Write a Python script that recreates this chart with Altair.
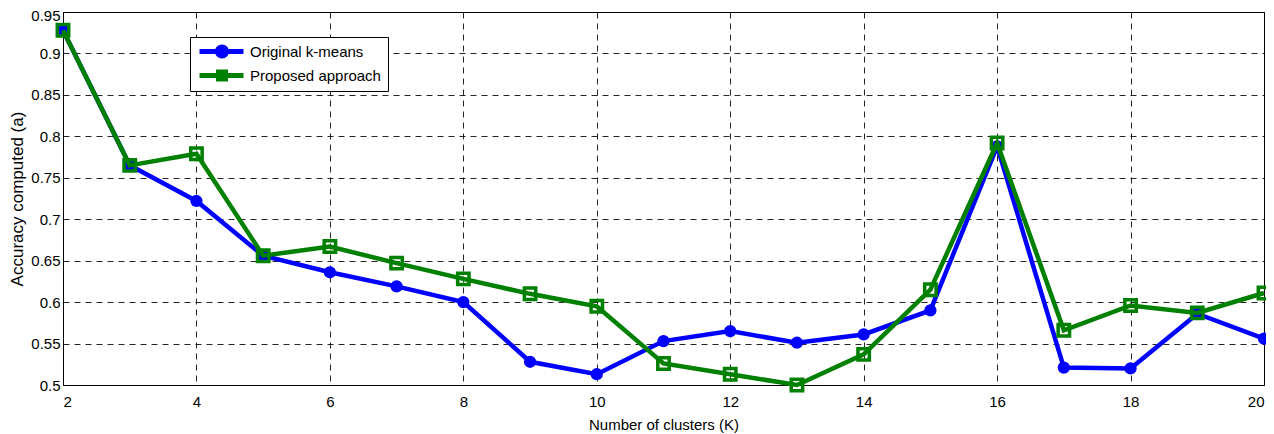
import altair as alt
import pandas as pd

k = list(range(2, 21))
original = [0.928, 0.765, 0.722, 0.656, 0.636, 0.619, 0.600, 0.528, 0.513, 0.553,
            0.565, 0.551, 0.561, 0.590, 0.788, 0.521, 0.520, 0.586, 0.556]
proposed = [0.928, 0.765, 0.779, 0.656, 0.667, 0.647, 0.628, 0.610, 0.595, 0.526,
            0.513, 0.500, 0.537, 0.615, 0.792, 0.566, 0.596, 0.587, 0.611]
series = ["Original k-means", "Proposed approach"]
colors = ["#0000ff", "#008000"]
x_ticks = [2, 4, 6, 8, 10, 12, 14, 16, 18, 20]
y_ticks = [0.5, 0.55, 0.6, 0.65, 0.7, 0.75, 0.8, 0.85, 0.9, 0.95]

df = pd.DataFrame({
    "K": k + k,
    "acc": original + proposed,
    "series": [series[0]] * len(k) + [series[1]] * len(k),
})

FONT = "Liberation Sans"

# legend symbol paths (unit = half the nominal symbol width): a line with a marker on it
BAR = "M-0.71,-0.36L5.57,-0.36L5.57,0.36L-0.71,0.36Z"
CIRC = BAR + "M1.5,0A1,1 0 1,1 3.5,0A1,1 0 1,1 1.5,0Z"
SQ = BAR + "M1.64,-0.86L3.36,-0.86L3.36,0.86L1.64,0.86Z"

legend = alt.Legend(
    orient="none", legendX=127, legendY=25, title=None,
    symbolSize=196, labelFontSize=15, labelFont=FONT, labelColor="black",
    labelOffset=38, padding=7, strokeColor="black", fillColor="white",
    rowPadding=8, symbolOpacity=1, symbolStrokeWidth=0,
)

color_scale = alt.Scale(domain=series, range=colors)
color_nolegend = alt.Color("series:N", scale=color_scale, legend=None)

x = alt.X("K:Q", scale=alt.Scale(domain=[2, 20], nice=False),
          axis=alt.Axis(values=x_ticks, title="Number of clusters (K)"))
y = alt.Y("acc:Q", scale=alt.Scale(domain=[0.5, 0.95], nice=False, zero=False),
          axis=alt.Axis(values=y_ticks, format="~g", title="Accuracy computed (a)",
                        labelOffset={"condition": {"test": "datum.value >= 0.949", "value": 3},
                                     "value": 0}))

# invisible layer that only supplies the legend symbols (line + marker)
legend_layer = alt.Chart(df).mark_point(filled=True, opacity=0).encode(
    x=x, y=y,
    color=alt.Color("series:N", scale=color_scale, legend=legend),
    shape=alt.Shape("series:N", scale=alt.Scale(domain=series, range=[CIRC, SQ]), legend=legend),
)

layers = [legend_layer]
for i, s in enumerate(series):
    base = alt.Chart(df).transform_filter(alt.datum.series == s)
    layers.append(base.mark_line(strokeWidth=4.5).encode(x=x, y=y, color=color_nolegend))
    if i == 0:
        layers.append(base.mark_point(shape="circle", filled=True, size=150, opacity=1)
                      .encode(x=x, y=y, color=color_nolegend))
    else:
        layers.append(base.mark_point(shape="square", filled=False, size=130, strokeWidth=3.5, opacity=1)
                      .encode(x=x, y=y, color=color_nolegend))

chart = alt.layer(*layers).properties(
    width=1201, height=373,
    autosize=alt.AutoSizeParams(type="none"),
    padding={"left": 55, "top": 4, "right": 2, "bottom": 48},
).configure_view(
    stroke="black", strokeWidth=1
).configure_axis(
    labelFont=FONT, labelFontSize=15, labelColor="black",
    titleFont=FONT, titleFontWeight="normal", titleColor="black",
    grid=True, gridColor="#000000", gridDash=[6, 5], gridWidth=1, gridOpacity=0.85,
    ticks=False, domainColor="black",
).configure_axisX(
    titlePadding=8, labelPadding=9, titleFontSize=15,
).configure_axisY(
    titlePadding=4, labelPadding=3, titleFontSize=17,
)

chart.save("out.html", embed_options={"renderer": "svg", "actions": False})
